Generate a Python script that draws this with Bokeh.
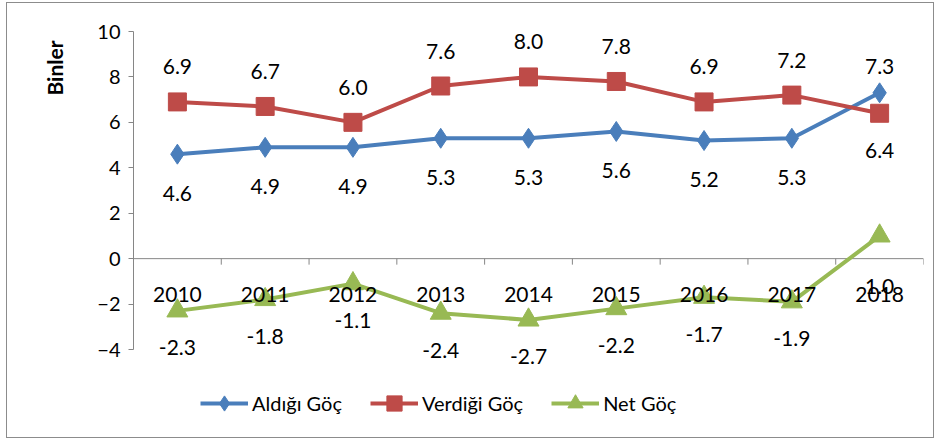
import math
from bokeh.plotting import figure
from bokeh.models import (ColumnDataSource, LinearAxis, FixedTicker, Legend, LegendItem,
                          Range1d, Title)
from bokeh.core.properties import value
from bokeh.embed import file_html
from bokeh.resources import INLINE

years = ["2010", "2011", "2012", "2013", "2014", "2015", "2016", "2017", "2018"]
aldigi = [4.6, 4.9, 4.9, 5.3, 5.3, 5.6, 5.2, 5.3, 7.3]
verdigi = [6.9, 6.7, 6.0, 7.6, 8.0, 7.8, 6.9, 7.2, 6.4]
net = [-2.3, -1.8, -1.1, -2.4, -2.7, -2.2, -1.7, -1.9, 1.0]
y_ticks = [-4, -2, 0, 2, 4, 6, 8, 10]

FONT = "Lato"
BLUE = "#4a7ebb"
RED = "#be4b48"
GREEN = "#98b954"
AXIS = "#868686"

n = len(years)
xs = [i + 0.5 for i in range(n)]
PX_PER_UNIT = 318 / 14          # plot scale (pixels per thousand)
y_min = -4 - 81 / PX_PER_UNIT   # frame extends below the axis so labels/legend are not clipped

p = figure(width=928, height=436, output_backend="svg", toolbar_location=None,
           x_range=Range1d(0, n), y_range=Range1d(y_min, 10),
           x_axis_location=None, y_axis_location=None,
           min_border_left=126, min_border_right=12, min_border_top=28, min_border_bottom=9)
p.margin = (2, 0, 0, 6)
p.styles = {"border": "1px solid #8c8c8c"}
p.outline_line_color = None
p.xgrid.visible = False
p.ygrid.visible = False
p.background_fill_color = "white"
p.border_fill_color = "white"

# Y axis
yax = LinearAxis(ticker=FixedTicker(ticks=y_ticks), bounds=(-4, 10))
yax.axis_line_color = AXIS
yax.major_tick_line_color = AXIS
yax.major_tick_in = 0
yax.major_tick_out = 5
yax.minor_tick_line_color = None
yax.major_label_text_font = FONT
yax.major_label_text_font_size = "20px"
yax.major_label_text_color = "black"
yax.major_label_standoff = 8
p.add_layout(yax, "left")

# axis title near the top of the axis (as in the reference)
ytitle = Title(text="Binler", align="right", vertical_align="middle", offset=9, standoff=54,
               text_font=FONT, text_font_size="21px", text_font_style="bold",
               text_color="black")
p.add_layout(ytitle, "left")

# category axis drawn at y = 0 (line and boundary ticks)
p.segment(x0=[0], y0=[0], x1=[n], y1=[0], line_color=AXIS, line_width=1)
tick_len = 6 / PX_PER_UNIT
p.segment(x0=list(range(n + 1)), y0=[0] * (n + 1), x1=list(range(n + 1)),
          y1=[-tick_len] * (n + 1), line_color=AXIS, line_width=1)

src = ColumnDataSource(dict(x=xs, aldigi=aldigi, verdigi=verdigi, net=net))

l1 = p.line("x", "aldigi", source=src, line_color=BLUE, line_width=4)
m1 = p.scatter("x", "aldigi", source=src, marker="diamond", size=20, fill_color=BLUE, line_color=BLUE)
l2 = p.line("x", "verdigi", source=src, line_color=RED, line_width=4)
m2 = p.scatter("x", "verdigi", source=src, marker="square", size=18, fill_color=RED, line_color=RED)
l3 = p.line("x", "net", source=src, line_color=GREEN, line_width=4)
m3 = p.scatter("x", "net", source=src, marker="triangle", size=21, fill_color=GREEN, line_color=GREEN)

# category labels (drawn over the series, like the reference)
p.text(x=xs, y=[0] * n, text=years, y_offset=36, text_align="center",
       text_baseline="middle", text_font=value(FONT), text_font_size="21px",
       text_color="black")

# data labels
def add_labels(vals, offsets):
    s = ColumnDataSource(dict(x=xs, y=vals, t=["%.1f" % v for v in vals], off=offsets))
    p.text("x", "y", text="t", source=s, y_offset="off", text_align="center",
           text_baseline="middle", text_font=value(FONT), text_font_size="21px",
           text_color="black")

off_a = [-26 if a > v else 39 for a, v in zip(aldigi, verdigi)]
off_v = [37 if v < a else -35 for a, v in zip(aldigi, verdigi)]
off_n = [37] * (n - 1) + [51]
add_labels(aldigi, off_a)
add_labels(verdigi, off_v)
add_labels(net, off_n)

legend = Legend(items=[LegendItem(label="Aldığı Göç", renderers=[l1, m1]),
                       LegendItem(label="Verdiği Göç", renderers=[l2, m2]),
                       LegendItem(label="Net Göç", renderers=[l3, m3])],
                orientation="horizontal", location=(67, 8))
legend.border_line_color = None
legend.background_fill_alpha = 0
legend.label_text_font = FONT
legend.label_text_font_size = "20px"
legend.label_text_color = "black"
legend.glyph_width = 48
legend.glyph_height = 38
legend.label_height = 38
legend.spacing = 28
legend.label_standoff = 4
legend.margin = 0
legend.padding = 0
p.add_layout(legend, "center")

open("out.html", "w").write(file_html(p, INLINE))
